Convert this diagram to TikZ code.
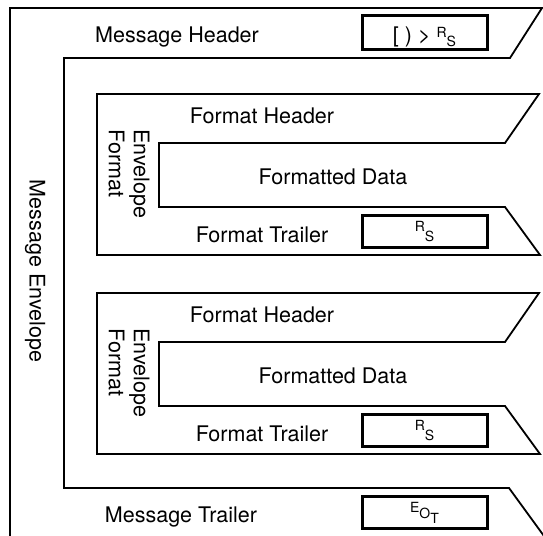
\documentclass[tikz,border=0pt]{standalone}
\usepackage{fontspec}
\setmainfont{TeX Gyre Heros}
\usepackage{tikz}

\newcommand{\labelfont}{\fontsize{21.5}{25}\selectfont}
\newcommand{\ctlfont}{\fontsize{14}{14}\selectfont}
\newcommand{\rsmark}{\raisebox{5pt}{\ctlfont R}\raisebox{-5pt}{\ctlfont S}}
\newcommand{\eotmark}{\raisebox{6pt}{\ctlfont E}{\ctlfont O}\raisebox{-5pt}{\ctlfont T}}

\tikzset{
  envline/.style={line width=1.8pt, line join=miter},
  ctlbox/.style={draw, line width=3pt, minimum width=125pt, minimum height=32pt,
    inner sep=0pt, font=\labelfont},
  lbl/.style={font=\labelfont, inner sep=0pt, anchor=base},
}

\begin{document}
\begin{tikzpicture}[x=1pt,y=-1pt]
  \useasboundingbox (0,0) rectangle (543,535);
  \clip (0,0) rectangle (543,535);

  % message envelope
  \draw[envline] (10,560) -- (10,8) -- (542,8) -- (510,58) -- (64,58)
    -- (64,488) -- (509,488) -- (560,558);
  \node[lbl] (mhdr) at (177,42) {Message Header};
  \node[lbl] (mtrl) at (181,522) {Message Trailer};
  \node[lbl, rotate=-90, anchor=center] (menv) at (35,271) {Message Envelope};
  \node[ctlbox, minimum height=34pt, text height=24pt, text depth=5pt] (mhbox) at (424.5,32.5) {[ ) > \rsmark};
  \node[ctlbox] (eotbox) at (424.5,512.5) {\eotmark};

  % the two format envelopes
  \foreach \dy/\i in {0/1, 199/2}{
    \begin{scope}[shift={(0,\dy)}]
      \draw[envline] (97,94) -- (539,94) -- (505,143) -- (159,143) -- (159,207)
        -- (505,207) -- (540,255) -- (97,255) -- cycle;
      \node[lbl] (fhdr\i) at (262,123) {Format Header};
      \node[lbl] (fdata\i) at (333,184) {Formatted Data};
      \node[lbl] (ftrl\i) at (262,242) {Format Trailer};
      \node[lbl, rotate=-90, anchor=center, align=left] (efmt\i) at (129,174) {Envelope\\Format};
      \node[ctlbox] (rsbox\i) at (424.5,231.5) {\rsmark};
    \end{scope}
  }
\end{tikzpicture}
\end{document}
